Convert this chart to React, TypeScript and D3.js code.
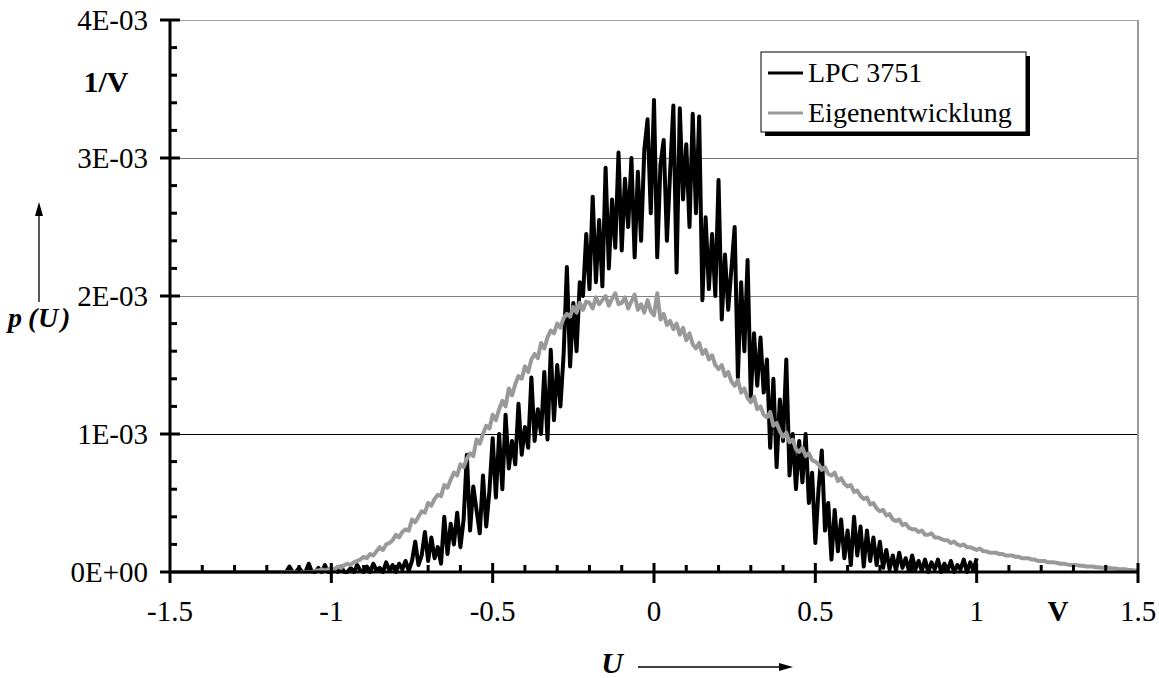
import React from "react";
import * as d3 from "d3";

// Histogram bins (V) and densities (units of 1E-3 per V)
const lpcStart = -1.15;
const lpcStep = 0.01;
const lpcValues = [
  0, 0, 0.04, 0, 0, 0.03, 0, 0, 0.06, 0,
  0, 0.03, 0, 0.05, 0, 0, 0.02, 0, 0.04, 0,
  0, 0.03, 0, 0.05, 0.01, 0, 0.04, 0, 0.06, 0.01,
  0.03, 0, 0.07, 0.01, 0.05, 0, 0.06, 0.02, 0.08, 0.01,
  0.08, 0.22, 0.05, 0.12, 0.29, 0.08, 0.25, 0.10, 0.18, 0.06,
  0.40, 0.13, 0.35, 0.20, 0.43, 0.18, 0.38, 0.85, 0.30, 0.62,
  0.45, 0.28, 0.70, 0.33, 0.59, 0.97, 0.54, 1.00, 0.60, 1.14,
  0.75, 0.95, 0.78, 1.22, 0.85, 1.05, 0.90, 1.41, 0.95, 1.18,
  1.00, 1.45, 0.96, 1.61, 1.10, 1.50, 1.20, 1.58, 2.21, 1.49,
  1.95, 1.60, 2.10, 2.00, 2.45, 2.05, 2.72, 2.10, 2.55, 2.07,
  2.93, 2.20, 2.70, 2.35, 3.04, 2.33, 2.85, 2.50, 3.00, 2.28,
  2.90, 2.40, 3.06, 3.28, 2.60, 3.42, 2.28, 2.95, 3.13, 2.40,
  2.90, 3.38, 2.17, 3.36, 2.70, 3.10, 2.50, 3.32, 2.60, 3.30,
  1.97, 2.57, 2.05, 2.45, 2.00, 2.84, 1.83, 2.30, 1.90, 2.20,
  2.50, 1.41, 2.10, 1.60, 2.26, 1.27, 1.73, 1.35, 1.70, 1.30,
  1.54, 0.90, 1.40, 0.76, 1.25, 0.95, 1.54, 0.70, 1.00, 0.60,
  0.95, 0.65, 1.00, 0.50, 0.72, 0.21, 0.60, 0.88, 0.30, 0.50,
  0.09, 0.45, 0.15, 0.38, 0.10, 0.30, 0.05, 0.40, 0.12, 0.33,
  0.04, 0.30, 0.08, 0.25, 0.05, 0.22, 0.03, 0.16, 0.02, 0.12,
  0.01, 0.14, 0.03, 0.10, 0.01, 0.12, 0.02, 0.08, 0.01, 0.09,
  0, 0.07, 0.02, 0.09, 0, 0.06, 0.01, 0.08, 0, 0.05,
  0.02, 0.09, 0, 0.07, 0.01, 0.10,
];

const eigenStart = -1.5;
const eigenStep = 0.01;
const eigenValues = [
  0, 0, 0, 0, 0, 0, 0, 0, 0, 0,
  0, 0, 0, 0, 0, 0, 0, 0, 0, 0,
  0, 0, 0, 0, 0, 0, 0, 0, 0, 0,
  0, 0, 0, 0, 0, 0, 0, 0, 0, 0,
  0, 0, 0, 0, 0, 0.01, 0.01, 0.02, 0.01, 0.02,
  0.03, 0.02, 0.04, 0.03, 0.05, 0.06, 0.05, 0.07, 0.08, 0.09,
  0.11, 0.10, 0.13, 0.12, 0.15, 0.18, 0.16, 0.20, 0.21, 0.23,
  0.27, 0.25, 0.29, 0.31, 0.30, 0.38, 0.36, 0.40, 0.44, 0.43,
  0.50, 0.48, 0.53, 0.56, 0.55, 0.63, 0.61, 0.67, 0.72, 0.70,
  0.78, 0.76, 0.82, 0.86, 0.84, 0.96, 0.93, 1.00, 1.06, 1.04,
  1.14, 1.10, 1.18, 1.24, 1.20, 1.33, 1.28, 1.36, 1.42, 1.40,
  1.49, 1.45, 1.54, 1.58, 1.55, 1.66, 1.62, 1.70, 1.75, 1.73,
  1.80, 1.77, 1.84, 1.87, 1.85, 1.92, 1.88, 1.95, 1.90, 1.96,
  1.95, 1.91, 1.99, 1.94, 1.97, 2.00, 1.93, 1.98, 2.02, 1.94,
  1.95, 1.99, 1.91, 1.96, 2.01, 1.90, 1.94, 1.88, 1.97, 1.89,
  1.86, 2.02, 1.83, 1.87, 1.79, 1.82, 1.76, 1.80, 1.72, 1.77,
  1.68, 1.73, 1.65, 1.62, 1.66, 1.58, 1.61, 1.54, 1.57, 1.50,
  1.47, 1.50, 1.42, 1.45, 1.38, 1.35, 1.39, 1.30, 1.33, 1.26,
  1.23, 1.27, 1.18, 1.20, 1.14, 1.12, 1.16, 1.06, 1.08, 1.02,
  0.98, 1.01, 0.94, 0.96, 0.89, 0.87, 0.90, 0.84, 0.86, 0.81,
  0.80, 0.78, 0.74, 0.76, 0.71, 0.70, 0.72, 0.66, 0.68, 0.64,
  0.62, 0.63, 0.58, 0.59, 0.55, 0.53, 0.54, 0.49, 0.50, 0.46,
  0.44, 0.45, 0.41, 0.42, 0.38, 0.37, 0.38, 0.34, 0.35, 0.32,
  0.31, 0.31, 0.29, 0.30, 0.27, 0.27, 0.28, 0.25, 0.25, 0.24,
  0.23, 0.23, 0.21, 0.22, 0.20, 0.19, 0.20, 0.18, 0.18, 0.17,
  0.16, 0.17, 0.15, 0.15, 0.14, 0.14, 0.14, 0.13, 0.13, 0.12,
  0.12, 0.12, 0.11, 0.11, 0.10, 0.10, 0.10, 0.09, 0.09, 0.08,
  0.08, 0.08, 0.07, 0.07, 0.07, 0.065, 0.06, 0.06, 0.055, 0.05,
  0.05, 0.05, 0.045, 0.045, 0.04, 0.04, 0.04, 0.035, 0.035, 0.03,
  0.03, 0.03, 0.025, 0.025, 0.02, 0.02, 0.02, 0.015, 0.015, 0.01,
  0.01,
];

const xTickValues = [-1.5, -1, -0.5, 0, 0.5, 1, 1.5];
const xTickLabels = ["-1.5", "-1", "-0.5", "0", "0.5", "1", "1.5"];
const yTickValues = [0, 0.001, 0.002, 0.003, 0.004];
const yTickLabels = ["0E+00", "1E-03", "2E-03", "3E-03", "4E-03"];
const seriesNames = ["LPC 3751", "Eigenentwicklung"];

const W = 1159;
const H = 678;
const FONT = "'Liberation Serif', 'Times New Roman', serif";
const FS = 29;

export default function App() {
  const x = d3.scaleLinear().domain([-1.5, 1.5]).range([170, 1138]);
  const y = d3.scaleLinear().domain([0, 0.004]).range([572, 20]);

  const lpc = lpcValues.map((v, i) => [lpcStart + i * lpcStep, v * 1e-3] as [number, number]);
  const eigen = eigenValues.map((v, i) => [eigenStart + i * eigenStep, v * 1e-3] as [number, number]);
  const line = d3
    .line<[number, number]>()
    .x((d) => x(d[0]))
    .y((d) => y(d[1]));

  const xMinor = d3.range(-15, 16).map((k) => k / 10).filter((v) => Math.abs(v * 2 - Math.round(v * 2)) > 1e-6);
  const yMinor = d3.range(0, 21).map((k) => k * 0.0002).filter((_, k) => k % 5 !== 0);
  const gridColors = ["#000", "#000000", "#808080", "#707070", "#a0a0a0"];

  return (
    <svg width={W} height={H} style={{ position: "absolute", left: 0, top: 0, background: "#fff" }} fontFamily={FONT}>
      <rect x={0} y={0} width={W} height={H} fill="#fff" />
      {/* gridlines */}
      {yTickValues.slice(1).map((v, i) => (
        <line key={v} x1={170} x2={1138} y1={y(v) + 0.5} y2={y(v) + 0.5} stroke={gridColors[i + 1]} strokeWidth={1} />
      ))}
      {/* right border */}
      <line x1={1138} x2={1138} y1={y(0.004)} y2={y(0)} stroke="#999" strokeWidth={2} />

      {/* series */}
      <path d={line(lpc) || ""} fill="none" stroke="#000" strokeWidth={4} strokeLinejoin="round" />
      <path d={line(eigen) || ""} fill="none" stroke="#999" strokeWidth={4} strokeLinejoin="round" />

      {/* axes */}
      <line x1={x(-1.5)} x2={x(1.5)} y1={y(0)} y2={y(0)} stroke="#000" strokeWidth={3} />
      <line x1={x(-1.5)} x2={x(-1.5)} y1={y(0.004)} y2={y(0) + 1.5} stroke="#000" strokeWidth={3} />
      {xMinor.map((v) => (
        <line key={"xm" + v} x1={x(v)} x2={x(v)} y1={y(0) - 7} y2={y(0)} stroke="#000" strokeWidth={3} />
      ))}
      {xTickValues.map((v) => (
        <line key={"xM" + v} x1={x(v)} x2={x(v)} y1={v === -1.5 ? y(0) : y(0) - 9} y2={y(0) + 11} stroke="#000" strokeWidth={3} />
      ))}
      {yMinor.map((v) => (
        <line key={"ym" + v} x1={x(-1.5)} x2={x(-1.5) + 7} y1={y(v)} y2={y(v)} stroke="#000" strokeWidth={3} />
      ))}
      {yTickValues.map((v) => (
        <line key={"yM" + v} x1={x(-1.5) - 10} x2={v === 0 ? x(-1.5) : x(-1.5) + 10} y1={y(v)} y2={y(v)} stroke="#000" strokeWidth={3} />
      ))}

      {/* tick labels */}
      {yTickValues.map((v, i) => (
        <text key={"yl" + v} x={148} y={y(v) + 10} textAnchor="end" fontSize={FS}>
          {yTickLabels[i]}
        </text>
      ))}
      {xTickValues.map((v, i) => (
        <text key={"xl" + v} x={x(v)} y={621} textAnchor="middle" fontSize={FS}>
          {xTickLabels[i]}
        </text>
      ))}

      {/* units */}
      <text x={1058} y={621} textAnchor="middle" fontSize={FS} fontWeight="bold">V</text>
      <text x={106} y={92} textAnchor="middle" fontSize={30} fontWeight="bold">1/V</text>

      {/* axis titles */}
      <text y={327} fontSize={28} fontWeight="bold" fontStyle="italic">
        <tspan x={8}>p</tspan>
        <tspan x={28}>(</tspan>
        <tspan x={38}>U</tspan>
        <tspan x={61}>)</tspan>
      </text>
      <line x1={39} x2={39} y1={302} y2={214} stroke="#000" strokeWidth={1.3} />
      <path d="M39,202 L35,216 L43,216 Z" fill="#000" />

      <text x={612} y={673} textAnchor="middle" fontSize={30} fontWeight="bold" fontStyle="italic">U</text>
      <line x1={638} x2={782} y1={667} y2={667} stroke="#000" strokeWidth={1.3} />
      <path d="M793,667 L779,663 L779,671 Z" fill="#000" />

      {/* legend */}
      <rect x={765} y={56} width={265} height={80} fill="#000" />
      <rect x={761} y={52} width={265} height={80} fill="#fff" stroke="#000" strokeWidth={1} />
      <line x1={768} x2={803} y1={73} y2={73} stroke="#000" strokeWidth={3.2} />
      <text x={808} y={82} fontSize={28}>{seriesNames[0]}</text>
      <line x1={768} x2={803} y1={113} y2={113} stroke="#999" strokeWidth={3.2} />
      <text x={808} y={122} fontSize={28}>{seriesNames[1]}</text>
    </svg>
  );
}
